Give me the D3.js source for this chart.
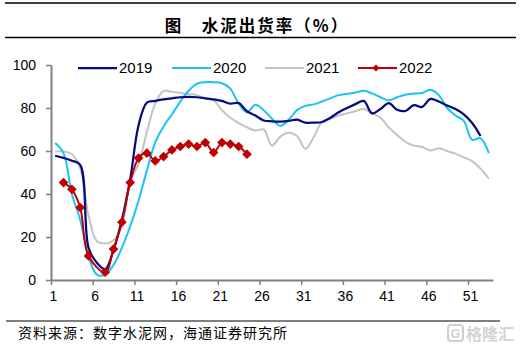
<!DOCTYPE html>
<html>
<head>
<meta charset="utf-8">
<script src="https://cdn.jsdelivr.net/npm/d3@7"></script>
<style>
  body { margin: 0; background: #fff; }
  svg { display: block; font-family: "Liberation Sans", Arial, sans-serif; }
  .cjk { font-family: "Noto Sans CJK SC", sans-serif; }
</style>
</head>
<body>
<div id="chart-area"></div>
<script>
/*
*    cement shipment rate, weekly
*/

// Data (week index = position + 1)
var s2019 = [57.8, 56.8, 55.5, 53.5, 15, 8, 5, 14, 28, 47,
    72, 82.5, 83.3, 84, 84.5, 85, 85.2, 85, 84.5, 84,
    83.3, 82, 82.3, 78.5, 76.5, 74.2, 73.8, 73.7, 74, 74.6,
    73.2, 73.2, 73.5, 75.5, 78, 80, 81.8, 83.3, 77.5, 79.5,
    82.3, 79.2, 78.6, 81.3, 80.5, 84.2, 83, 81.2, 79.5, 77,
    73, 67];
var s2020 = [63.7, 59, 40, 28, 11, 2.5, 2.5, 7, 15, 25,
    37, 51, 64, 71.5, 77, 83, 88, 91.3, 92, 92,
    91.5, 89, 82, 78, 81.5, 79, 75, 71.7, 74.5, 79,
    81, 81.7, 83, 84.5, 86, 86.6, 87.2, 88, 86.8, 85,
    83.6, 85, 86.2, 86.7, 87, 88.5, 86, 80, 76.5, 74,
    65.2, 66, 59];
var s2021 = [59.8, 59.8, 58.5, 52, 30, 18, 17, 18.5, 25, 46,
    54, 69, 82, 88, 87.5, 87, 86.5, 86, 84.5, 83.5,
    79, 75.5, 73, 71, 69.5, 70, 62.5, 66.7, 68.5, 67,
    61, 66.5, 73.5, 75, 76.5, 77.5, 78.5, 79.5, 77.5, 75.5,
    71, 67.5, 64.2, 62.5, 62, 60.2, 61.3, 60, 58.8, 57,
    55.3, 51.8, 47.2];
var s2022 = [null, 45.3, 42.2, 33.7, 11.2, null, 3.6, 14.4, 26.9, 45.3,
    56.7, 59.0, 55.4, 57.4, 60.5, 62.1, 63.2, 62.1, 63.9, 59.3,
    63.9, 63.2, 62.1, 58.5];

var years = ["2019", "2020", "2021", "2022"];
var xTicks = [1, 6, 11, 16, 21, 26, 31, 36, 41, 46, 51];
var yTicks = [0, 20, 40, 60, 80, 100];

var title = "图\u3000水泥出货率（%）";
var source = "资料来源：数字水泥网，海通证券研究所";

var W = 523, H = 350;

var svg = d3.select("#chart-area").append("svg")
    .attr("width", W)
    .attr("height", H);

// Scales
var x = d3.scaleLinear().domain([1, 54]).range([51, 493]);
var y = d3.scaleLinear().domain([0, 100]).range([280, 65]);
var color = d3.scaleOrdinal()
    .domain(years)
    .range(["#0a0a80", "#17c4f4", "#c3c3c3", "#c00000"]);

// Title + rules
svg.append("line").attr("x1", 5).attr("x2", 516).attr("y1", 3).attr("y2", 3)
    .attr("stroke", "#000").attr("stroke-width", 1.5);
svg.append("line").attr("x1", 5).attr("x2", 516).attr("y1", 37.5).attr("y2", 37.5)
    .attr("stroke", "#000").attr("stroke-width", 1.5);
svg.append("text")
    .attr("class", "cjk")
    .attr("x", 257)
    .attr("y", 25)
    .attr("text-anchor", "middle")
    .attr("dominant-baseline", "central")
    .attr("font-size", 16.5)
    .attr("font-weight", "bold")
    .attr("letter-spacing", 2)
    .text(title);

// Axes
var xAxis = svg.append("g")
    .attr("transform", "translate(0,280)")
    .call(d3.axisBottom(x).tickValues(xTicks).tickSize(5).tickSizeOuter(0).tickPadding(6));
var yAxis = svg.append("g")
    .attr("transform", "translate(51,0)")
    .call(d3.axisLeft(y).tickValues(yTicks).tickSize(5).tickSizeOuter(0).tickPadding(10));

[xAxis, yAxis].forEach(function(a) {
    a.select(".domain").attr("stroke", "#808080").attr("stroke-width", 2);
    a.selectAll(".tick line").attr("stroke", "#808080").attr("stroke-width", 1.5);
    a.selectAll(".tick text").attr("fill", "#000").attr("font-size", 14)
        .attr("font-family", "Liberation Sans, Arial, sans-serif");
});
xAxis.selectAll(".tick text").attr("dx", 2);

// Lines
var line = d3.line()
    .x(function(d) { return x(d.w + 0.5); })
    .y(function(d) { return y(d.v); })
    .curve(d3.curveCatmullRom.alpha(0.5));

function toPoints(arr) {
    return arr.map(function(v, i) { return { w: i + 1, v: v }; })
        .filter(function(d) { return d.v !== null; });
}

var series = [
    { key: "2021", pts: toPoints(s2021) },
    { key: "2020", pts: toPoints(s2020) },
    { key: "2019", pts: toPoints(s2019) },
    { key: "2022", pts: toPoints(s2022) }
];

svg.append("g").selectAll("path")
    .data(series)
    .enter()
    .append("path")
    .attr("fill", "none")
    .attr("stroke", function(d) { return color(d.key); })
    .attr("stroke-width", function(d) { return d.key === "2019" ? 2.25 : 2; })
    .attr("stroke-linejoin", "round")
    .attr("d", function(d) { return line(d.pts); });

// 2022 diamonds
var diamond = d3.symbol().type(d3.symbolDiamond2).size(60);
svg.append("g").selectAll("path")
    .data(series[3].pts)
    .enter()
    .append("path")
    .attr("transform", function(d) { return "translate(" + x(d.w + 0.5) + "," + y(d.v) + ")"; })
    .attr("d", diamond)
    .attr("fill", color("2022"));

// Legend
var legendX = [78, 172, 265, 358];
var legendRow = svg.append("g").selectAll("g")
    .data(years)
    .enter()
    .append("g")
    .attr("transform", function(d, i) { return "translate(" + legendX[i] + ",68)"; });

legendRow.append("line")
    .attr("x1", 0).attr("x2", 39)
    .attr("stroke", function(d) { return color(d); })
    .attr("stroke-width", function(d) { return d === "2019" ? 2.25 : 2; });

legendRow.filter(function(d) { return d === "2022"; })
    .append("path")
    .attr("transform", "translate(18,0)")
    .attr("d", d3.symbol().type(d3.symbolDiamond2).size(32))
    .attr("fill", color("2022"));

legendRow.append("text")
    .attr("x", 41)
    .attr("y", 5.3)
    .attr("font-size", 15)
    .text(function(d) { return d; });

// Footer
svg.append("line").attr("x1", 6).attr("x2", 500).attr("y1", 321).attr("y2", 321)
    .attr("stroke", "#000").attr("stroke-width", 1.2);
svg.append("text")
    .attr("class", "cjk")
    .attr("x", 18)
    .attr("y", 338)
    .attr("font-size", 14)
    .attr("letter-spacing", 1)
    .text(source);

// watermark
var wm = svg.append("g").attr("transform", "translate(448,325)");
wm.append("rect").attr("width", 15).attr("height", 16).attr("rx", 3)
    .attr("fill", "none").attr("stroke", "#cfcfcf").attr("stroke-width", 2);
wm.append("text").attr("x", 7.5).attr("y", 13).attr("text-anchor", "middle")
    .attr("font-size", 12).attr("font-weight", "bold").attr("fill", "#cfcfcf").text("G");
wm.append("text").attr("class", "cjk").attr("x", 18).attr("y", 14.5)
    .attr("font-size", 16).attr("font-weight", "bold").attr("fill", "#d3d3d3").text("格隆汇");
</script>
</body>
</html>
